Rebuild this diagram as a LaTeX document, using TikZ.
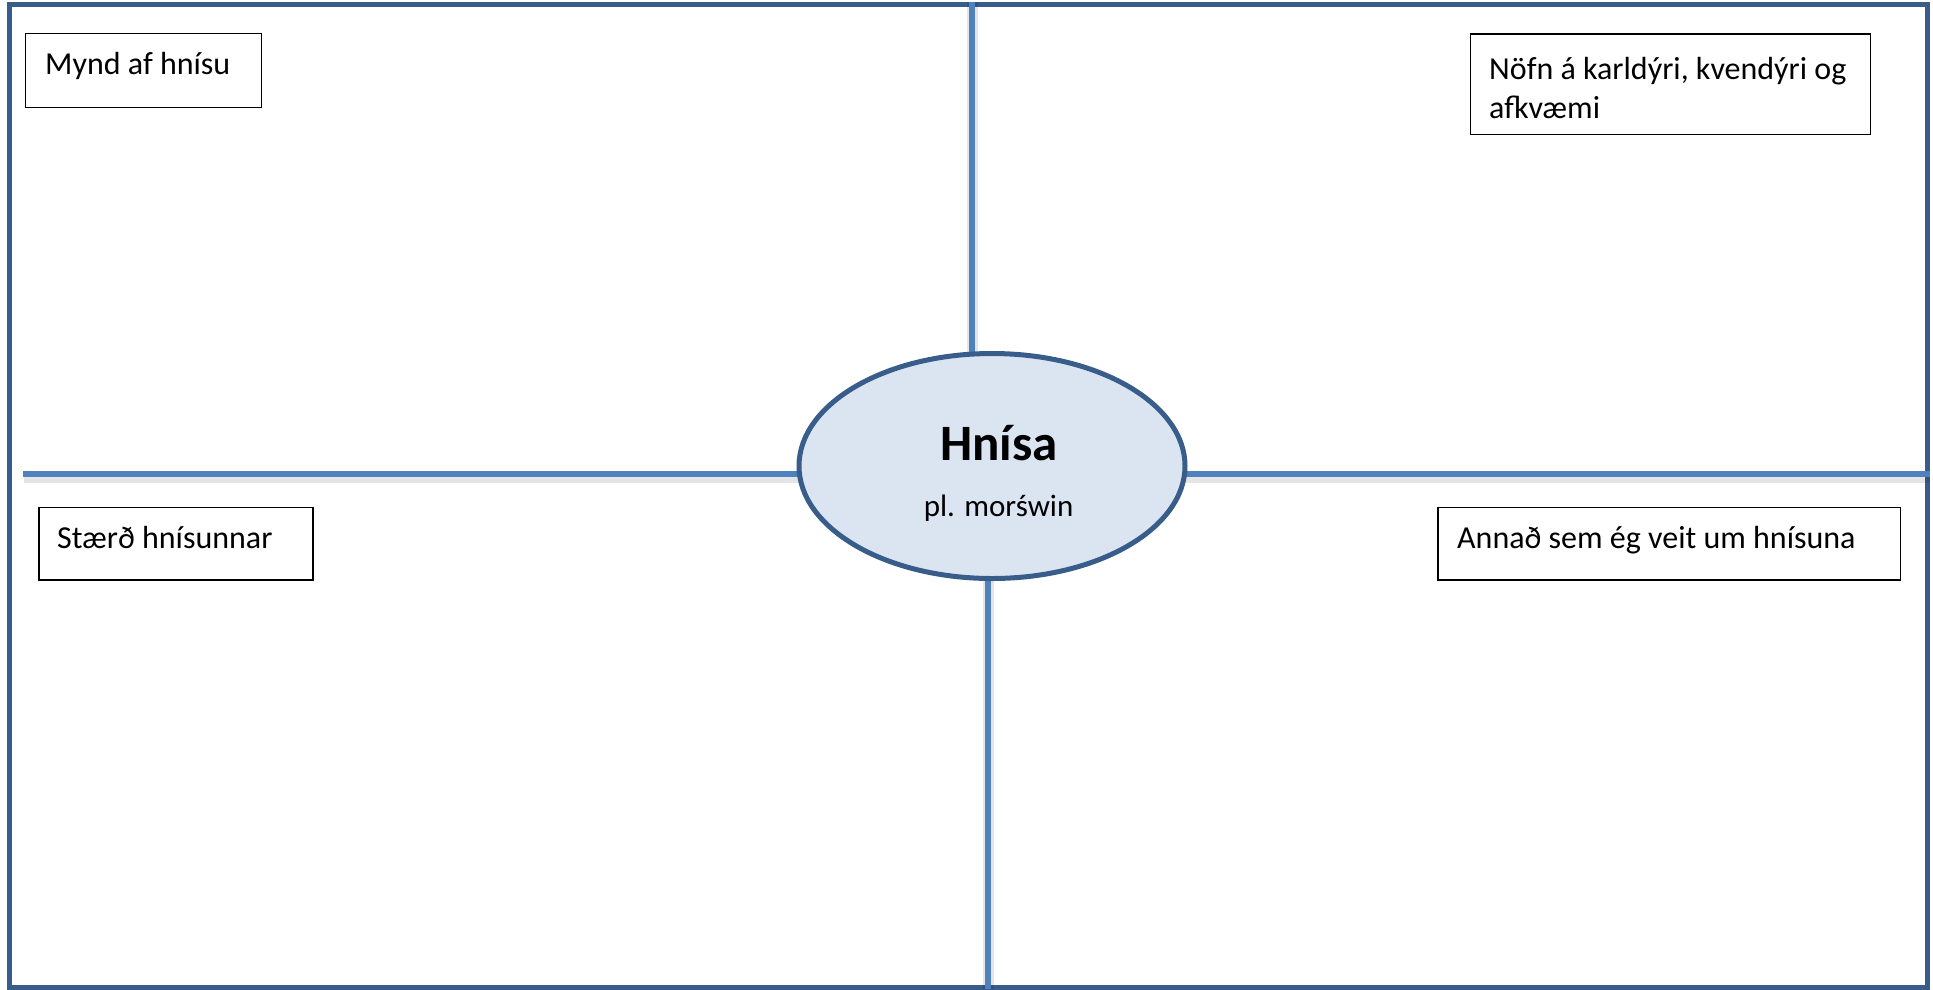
\documentclass[tikz,border=0pt]{standalone}
\usepackage{fontspec}
\setmainfont{Carlito}
\usetikzlibrary{shapes.geometric}
\definecolor{frameblue}{HTML}{385D8A}
\definecolor{lineblue}{HTML}{4F81BD}
\definecolor{ellfill}{HTML}{DBE5F1}
\tikzset{
  frame/.style={draw=frameblue, line width=5pt},
  divider/.style={draw=lineblue, line width=6pt},
  dividershadow/.style={draw=black, opacity=0.10, line width=11pt},
  labelbox/.style={draw=black, line width=1.4pt, inner sep=0pt, anchor=north west},
  labeltext/.style={anchor=base west, inner sep=0pt, font=\fontsize{32}{40}\selectfont},
  hubstyle/.style={ellipse, draw=frameblue, fill=ellfill, line width=5pt, inner sep=0pt,
    minimum width=386pt, minimum height=225pt},
}
\begin{document}
\begin{tikzpicture}[x=1pt,y=-1pt]
\useasboundingbox (0,0) rectangle (1933,989);
\fill[white] (0,0) rectangle (1933,989);
% outer frame
\draw[frame] (9.5,4.5) rectangle (1927,987);
% hub centre and free ends of the dividers
\coordinate (hubc) at (992,466);
\coordinate (topend) at (972,2);
\coordinate (botend) at (988,988.5);
\coordinate (leftend) at (23,474);
\coordinate (rightend) at (1929.5,474);
% shadows
\draw[dividershadow] ([xshift=1pt,yshift=-3pt]leftend) -- ([xshift=1pt,yshift=-3pt]leftend -| hubc);
\draw[dividershadow] ([yshift=-3pt]rightend) -- ([yshift=-3pt]rightend -| hubc);
\draw[dividershadow] ([xshift=0.5pt]topend) -- ([xshift=0.5pt]topend |- hubc);
\draw[dividershadow] ([xshift=0.5pt]botend) -- ([xshift=0.5pt]botend |- hubc);
% dividers
\draw[divider] (leftend) -- (leftend -| hubc);
\draw[divider] (rightend) -- (rightend -| hubc);
\draw[divider] (topend) -- (topend |- hubc);
\draw[divider] (botend) -- (botend |- hubc);
% hub
\node[hubstyle] (hub) at (hubc) {};
\node[anchor=base, inner sep=0pt, font=\fontsize{51}{60}\selectfont\bfseries] (title) at (999,460.7) {Hnísa};
\node[anchor=base, inner sep=0pt, font=\fontsize{31}{36}\selectfont] (subtitle) at (998.6,516.7) {pl. morświn};
% label boxes
\node[labelbox, minimum width=235.7pt, minimum height=73.7pt] (box1) at (25,33) {};
\node[labeltext] (text1) at (45,74) {Mynd af hnísu};
\node[labelbox, minimum width=400pt, minimum height=100.7pt] (box2) at (1470,33.3) {};
\node[labeltext] (text2a) at (1489,79.5) {Nöfn á karldýri, kvendýri og};
\node[labeltext] (text2b) at (1489,118.5) {afkvæmi};
\node[labelbox, minimum width=274pt, minimum height=72.6pt] (box3) at (38.3,506.7) {};
\node[labeltext] (text3) at (57,548.3) {Stærð hnísunnar};
\node[labelbox, minimum width=462.7pt, minimum height=72.6pt] (box4) at (1437.3,506.7) {};
\node[labeltext] (text4) at (1457,548.3) {Annað sem ég veit um hnísuna};
\end{tikzpicture}
\end{document}
